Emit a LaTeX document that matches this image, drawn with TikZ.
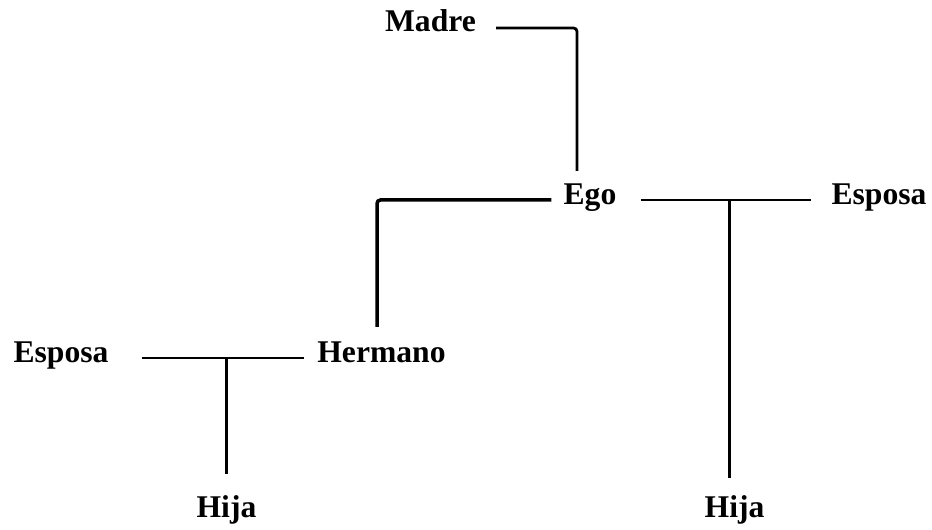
\documentclass[tikz,border=0pt]{standalone}
\usepackage{fontspec}
\setmainfont{Liberation Serif}
\usepackage{tikz}

\begin{document}
\begin{tikzpicture}[
	x=0.02cm, y=-0.02cm,
	person/.style={inner sep=0pt, anchor=base,
		font=\fontsize{18}{20}\selectfont\bfseries},
	kin/.style={line width=1.6pt, rounded corners=2pt},
]
\useasboundingbox (0,0) rectangle (932,530);

% Madre
\node [person] (madre) at (430.5,32) {Madre};

% Ego and his wife
\node [person] (ego) at (590,204) {Ego};
\node [person] (esposaR) at (879,204) {Esposa};

% Hermano and his wife
\node [person] (hermano) at (381.5,362) {Hermano};
\node [person] (esposaL) at (61,362) {Esposa};

% Daughters
\node [person] (hijaL) at (226.5,517) {Hija};
\node [person] (hijaR) at (734.5,517) {Hija};

% Descent lines
\draw[kin] ([xshift=0.4cm]madre.mid east) -| ([xshift=-0.26cm,yshift=0.24cm]ego.north);
\draw[kin, line width=2pt] ([xshift=-0.24cm]ego.mid west) -| ([xshift=-0.09cm,yshift=0.28cm]hermano.north);

% Marriages
\draw[kin] ([xshift=0.48cm]ego.mid east) -- coordinate[pos=0.52] (mR) ([xshift=-0.4cm]esposaR.mid west);
\draw[kin] ([xshift=0.66cm]esposaL.mid east) -- coordinate[pos=0.52] (mL) ([xshift=-0.26cm]hermano.mid west);

% Children
\coordinate (hR) at ([yshift=0.34cm]hijaR.north);
\coordinate (hL) at ([yshift=0.42cm]hijaL.north);
\draw[kin] (mR) -- (mR |- hR);
\draw[kin] (mL) -- (mL |- hL);

\end{tikzpicture}
\end{document}
